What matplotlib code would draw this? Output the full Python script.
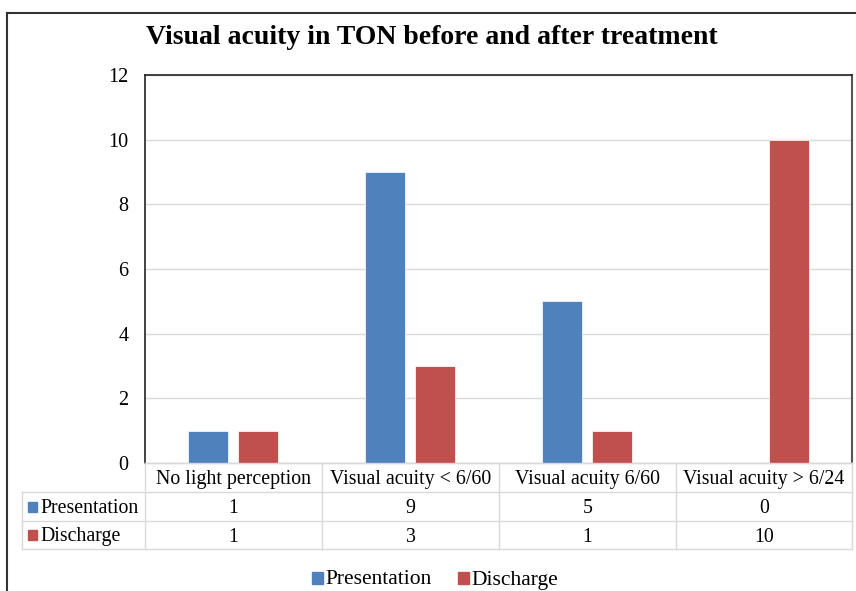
import matplotlib
matplotlib.use("Agg")
from matplotlib import pyplot as plt
from matplotlib.patches import Rectangle
from matplotlib.lines import Line2D
import numpy as np

categories = ["No light perception", "Visual acuity < 6/60",
              "Visual acuity 6/60", "Visual acuity > 6/24"]
series_names = ["Presentation", "Discharge"]
presentation = [1, 9, 5, 0]
discharge = [1, 3, 1, 10]
colors = ["#4F81BD", "#C0504D"]
title = "Visual acuity in TON before and after treatment"

W, H = 856, 591
plt.rcParams['font.family'] = ['Liberation Serif', 'DejaVu Serif']

fig = plt.figure(figsize=(W / 100, H / 100), dpi=100)

def fx(px):
    return px / W

def fy(py):
    return 1 - py / H

# plot area in pixels
L, R, T, B = 145, 852, 75, 463
ax = fig.add_axes([fx(L), fy(B), fx(R) - fx(L), fy(T) - fy(B)])

x = np.arange(len(categories))
bw = 0.226
gap = 0.056
ax.bar(x - (bw + gap) / 2, presentation, bw, color=colors[0], zorder=3,
       edgecolor="white", linewidth=0.5)
ax.bar(x + (bw + gap) / 2, discharge, bw, color=colors[1], zorder=3,
       edgecolor="white", linewidth=0.5)

ax.set_xlim(-0.5, len(categories) - 0.5)
ax.set_ylim(0, 12)
ax.set_yticks(range(0, 13, 2))
ax.set_xticks([])
ax.tick_params(axis='y', length=0, labelsize=14.5, pad=12)
ax.grid(axis='y', color="#d9d9d9", linewidth=1, zorder=0)
for s in ["top", "left"]:
    ax.spines[s].set_color("#222222")
    ax.spines[s].set_linewidth(1.2)
ax.spines["right"].set_color("#555555")
ax.spines["right"].set_linewidth(1.5)
ax.spines["bottom"].set_color("#d9d9d9")
ax.spines["bottom"].set_linewidth(1)

fig.text(fx(432), fy(37), title, ha="center", va="center",
         fontsize=20, fontweight="bold")

# data table below the plot
rows_y = [463, 492, 521, 549]
col_x = [22, 145, 322, 499, 676, 852]
grid_c = "#d9d9d9"
for yy in rows_y:
    x0 = col_x[1] if yy == rows_y[0] else col_x[0]
    fig.add_artist(Line2D([fx(x0), fx(col_x[-1])], [fy(yy), fy(yy)],
                          color=grid_c, lw=1))
for i, xx in enumerate(col_x):
    y0 = rows_y[0] if i > 0 else rows_y[1]
    fig.add_artist(Line2D([fx(xx), fx(xx)], [fy(y0), fy(rows_y[-1])],
                          color=grid_c, lw=1))

fs = 14.3
dy = 2
for i, c in enumerate(categories):
    cx = (col_x[i + 1] + col_x[i + 2]) / 2
    fig.text(fx(cx), fy((rows_y[0] + rows_y[1]) / 2 + dy), c,
             ha="center", va="center", fontsize=fs)

for r, (name, vals) in enumerate(zip(series_names, [presentation, discharge])):
    cy = (rows_y[r + 1] + rows_y[r + 2]) / 2
    fig.add_artist(Rectangle((fx(28), fy(cy + 5)), fx(9), 10 / H,
                             color=colors[r]))
    fig.text(fx(40), fy(cy + dy), name, ha="left", va="center", fontsize=fs)
    for i, v in enumerate(vals):
        cx = (col_x[i + 1] + col_x[i + 2]) / 2
        fig.text(fx(cx), fy(cy + dy), str(v), ha="center", va="center",
                 fontsize=fs)

# legend at the bottom
lx = [312, 458]
for k, name in enumerate(series_names):
    fig.add_artist(Rectangle((fx(lx[k]), fy(584)), fx(11), 12 / H,
                             color=colors[k]))
    fig.text(fx(lx[k] + 13), fy(580), name, ha="left", va="center",
             fontsize=15.5)

# outer chart frame
fig.add_artist(Line2D([fx(7), fx(7)], [fy(13), 0], color="#333333", lw=1.5))
fig.add_artist(Line2D([fx(7), 1], [fy(13), fy(13)], color="#333333", lw=1.5))

fig.savefig("out.png", dpi=100)
